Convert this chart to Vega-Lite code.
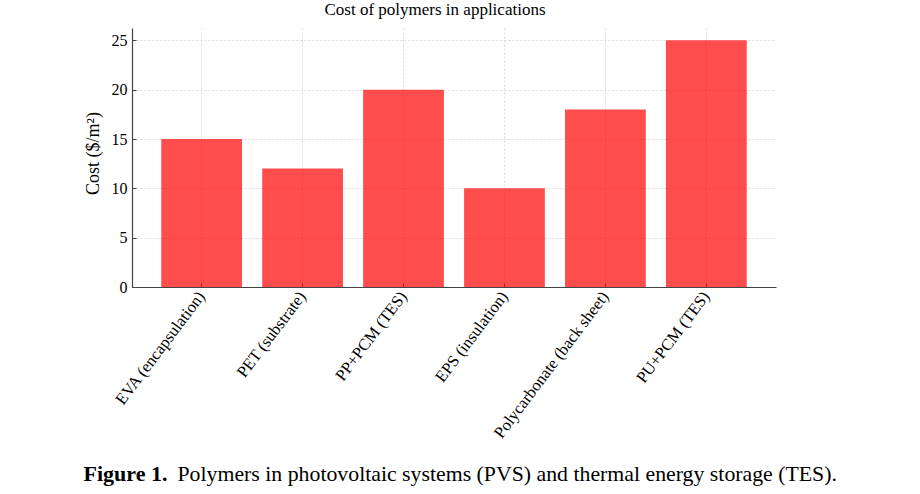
{
  "$schema": "https://vega.github.io/schema/vega-lite/v6.json",
  "autosize": {"type": "none"},
  "width": 644,
  "height": 259,
  "padding": {"left": 132, "top": 28, "right": 144, "bottom": 207},
  "background": "white",
  "config": {
    "view": {"stroke": null},
    "font": "Liberation Serif"
  },
  "title": {
    "text": "Cost of polymers in applications",
    "font": "Liberation Serif",
    "fontSize": 17,
    "fontWeight": "normal",
    "color": "black",
    "offset": 9,
    "dx": -19
  },
  "data": {
    "values": [
      {"polymer": "EVA (encapsulation)", "cost": 15},
      {"polymer": "PET (substrate)", "cost": 12},
      {"polymer": "PP+PCM (TES)", "cost": 20},
      {"polymer": "EPS (insulation)", "cost": 10},
      {"polymer": "Polycarbonate (back sheet)", "cost": 18},
      {"polymer": "PU+PCM (TES)", "cost": 25}
    ]
  },
  "encoding": {
    "x": {
      "field": "polymer",
      "type": "nominal",
      "sort": null,
      "scale": {"paddingInner": 0.2, "paddingOuter": 0.29},
      "axis": {
        "title": "Polymers in photovoltaic systems (PVS) and thermal energy storage (TES).",
        "titleFont": "Liberation Serif",
        "titleFontSize": 21.8,
        "titleFontWeight": "normal",
        "titleColor": "black",
        "titleAlign": "left",
        "titleBaseline": "alphabetic",
        "titleAnchor": null,
        "titleX": 45,
        "titleY": 193,
        "labelAngle": -53,
        "labelFont": "Liberation Serif",
        "labelFontSize": 16.5,
        "labelColor": "black",
        "labelPadding": 10,
        "labelLimit": 400,
        "tickSize": -4,
        "tickColor": "#444",
        "bandPosition": 0.5,
        "domainColor": "#444",
        "domainWidth": 1.2,
        "grid": true,
        "gridColor": "#dcdcdc",
        "gridDash": [2, 2],
        "gridWidth": 1
      }
    },
    "y": {
      "field": "cost",
      "type": "quantitative",
      "scale": {"domain": [0, 26.25], "nice": false}
    }
  },
  "layer": [
    {
      "mark": {"type": "bar", "color": "#ff0000", "opacity": 0.7},
      "encoding": {
        "y": {
          "field": "cost",
          "type": "quantitative",
          "axis": {
            "title": "Cost ($/m²)",
            "titleFont": "Liberation Serif",
            "titleFontSize": 18,
            "titleFontWeight": "normal",
            "titleColor": "black",
            "titleX": -39,
            "titleY": 125,
            "titleAlign": "center",
            "titleBaseline": "middle",
            "values": [0, 5, 10, 15, 20, 25],
            "labelFont": "Liberation Serif",
            "labelFontSize": 16,
            "labelColor": "black",
            "labelPadding": 9,
            "tickSize": -4,
            "tickColor": "#444",
            "domainColor": "#444",
            "domainWidth": 1.2,
            "grid": true,
            "gridColor": "#dcdcdc",
            "gridDash": [2, 2],
            "gridWidth": 1
          }
        }
      }
    },
    {
      "mark": {"type": "bar", "opacity": 0},
      "encoding": {
        "y": {
          "field": "cost",
          "type": "quantitative",
          "axis": {
            "orient": "right",
            "title": "Figure 1.",
            "titleFont": "Liberation Serif",
            "titleFontSize": 22,
            "titleFontWeight": "bold",
            "titleColor": "black",
            "titleAngle": 0,
            "titleAlign": "left",
            "titleBaseline": "alphabetic",
            "titleX": -693,
            "titleY": 452,
            "labels": false,
            "ticks": false,
            "domain": false,
            "grid": false
          }
        }
      }
    }
  ],
  "resolve": {"axis": {"y": "independent"}}
}
